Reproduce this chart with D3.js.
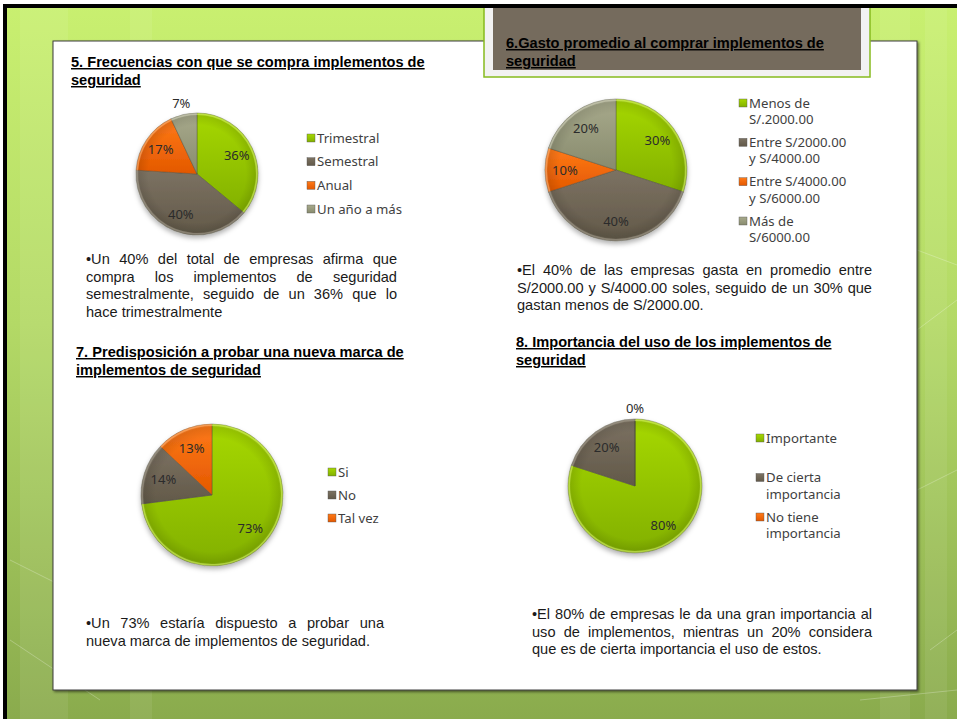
<!DOCTYPE html>
<meta charset="utf-8">
<html>
<head>
  <title>Implementos de seguridad</title>
  <script src="https://d3js.org/d3.v7.min.js"></script>
  <style>
    body { margin: 0; background: white; }
    .title { font-family: "Liberation Sans", Arial, sans-serif; font-size: 14.6px; font-weight: bold; text-decoration: underline; fill: #000; }
    .note { font-family: "Liberation Sans", Arial, sans-serif; font-size: 14.6px; fill: #1a1a1a; }
    .pct { font-family: "Noto Sans", sans-serif; font-size: 13px; fill: #2b2b2b; }
    .legend text { font-family: "Noto Sans", sans-serif; font-size: 13.2px; fill: #3f3f3f; }
  </style>
</head>
<body>
<script>
  // ---- data ----
  var freqCats = ["Trimestral", "Semestral", "Anual", "Un año a más"];
  var freqVals = [36, 40, 17, 7];

  var gastoCats = ["Menos de\nS/.2000.00", "Entre S/2000.00\ny S/4000.00", "Entre S/4000.00\ny S/6000.00", "Más de\nS/6000.00"];
  var gastoVals = [30, 40, 10, 20];

  var marcaCats = ["Si", "No", "Tal vez"];
  var marcaVals = [73, 14, 13];

  var usoCats = ["Importante", "De cierta\nimportancia", "No tiene\nimportancia"];
  var usoVals = [80, 20, 0];

  var titles = [
    ["5. Frecuencias con que se compra implementos de", "seguridad"],
    ["6.Gasto promedio al comprar implementos de", "seguridad"],
    ["7. Predisposición a probar una nueva marca de", "implementos de seguridad"],
    ["8. Importancia del uso de los implementos de", "seguridad"]
  ];

  var notes = [
    ["•Un 40% del total de empresas afirma que", "compra los implementos de seguridad", "semestralmente, seguido de un 36% que lo", "hace trimestralmente"],
    ["•El 40% de las empresas gasta en promedio entre", "S/2000.00 y S/4000.00 soles, seguido de un 30% que", "gastan menos de S/2000.00."],
    ["•Un 73% estaría dispuesto a probar una", "nueva marca de implementos de seguridad."],
    ["•El 80% de empresas le da una gran importancia al", "uso de implementos, mientras un 20% considera", "que es de cierta importancia el uso de estos."]
  ];

  // ---- layout ----
  var W = 957, H = 719;
  var charts = [
    { cats: freqCats,  vals: freqVals,  cx: 197, cy: 174, r: 61, tx: 71,  ty: 67,  lx: 307, ly: [138, 209], nx: 86,  nw: 311, ny: 264 },
    { cats: gastoCats, vals: gastoVals, cx: 616, cy: 170, r: 71, tx: 506, ty: 48,  lx: 739, ly: [103, 221], nx: 517, nw: 355, ny: 275 },
    { cats: marcaCats, vals: marcaVals, cx: 212, cy: 495, r: 71, tx: 76,  ty: 357, lx: 328, ly: [472, 518], nx: 86,  nw: 298, ny: 628 },
    { cats: usoCats,   vals: usoVals,   cx: 635, cy: 486, r: 67, tx: 516, ty: 347, lx: 756, ly: [438, 517], nx: 532, nw: 340, ny: 619 }
  ];

  var palette = [
    { name: "verde",  top: "#a6d800", bot: "#82b000", rim: "#d4f060" },
    { name: "marron", top: "#7c7262", bot: "#625949", rim: "#a39a8a" },
    { name: "naranja", top: "#ff7a18", bot: "#e35800", rim: "#ffb070" },
    { name: "oliva",  top: "#a8aa8c", bot: "#888b6e", rim: "#cfd0b8" }
  ];

  var svg = d3.select("body").append("svg")
    .attr("width", W)
    .attr("height", H);

  var defs = svg.append("defs");

  var bg = defs.append("linearGradient").attr("id", "bg")
    .attr("x1", 0).attr("y1", 0).attr("x2", 0).attr("y2", 1);
  bg.append("stop").attr("offset", "0%").attr("stop-color", "#c9f070");
  bg.append("stop").attr("offset", "45%").attr("stop-color", "#b3d966");
  bg.append("stop").attr("offset", "100%").attr("stop-color", "#8aab4d");

  palette.forEach(function(p) {
    var g = defs.append("linearGradient").attr("id", "g-" + p.name)
      .attr("x1", 0).attr("y1", 0).attr("x2", 0).attr("y2", 1);
    g.append("stop").attr("offset", "0%").attr("stop-color", p.top);
    g.append("stop").attr("offset", "100%").attr("stop-color", p.bot);
  });

  var shade = defs.append("radialGradient").attr("id", "shade")
    .attr("cx", "50%").attr("cy", "50%").attr("r", "50%");
  shade.append("stop").attr("offset", "80%").attr("stop-color", "#000").attr("stop-opacity", 0);
  shade.append("stop").attr("offset", "95%").attr("stop-color", "#000").attr("stop-opacity", 0.1);
  shade.append("stop").attr("offset", "100%").attr("stop-color", "#fff").attr("stop-opacity", 0.2);

  var drop = defs.append("filter").attr("id", "drop")
    .attr("x", "-20%").attr("y", "-20%").attr("width", "140%").attr("height", "140%");
  drop.append("feDropShadow").attr("dx", 0).attr("dy", 3).attr("stdDeviation", 2.5)
    .attr("flood-color", "#000").attr("flood-opacity", 0.3);

  var panelShadow = defs.append("filter").attr("id", "pshadow")
    .attr("x", "-5%").attr("y", "-5%").attr("width", "110%").attr("height", "110%");
  panelShadow.append("feDropShadow").attr("dx", 1.5).attr("dy", 1.5).attr("stdDeviation", 0.8)
    .attr("flood-color", "#000").attr("flood-opacity", 0.5);

  // slide background
  svg.append("rect").attr("width", W).attr("height", H).attr("fill", "url(#bg)");

  var deco = svg.append("g").attr("stroke", "#fff").attr("fill", "none");
  [[20, 48], [130, 22], [880, 30], [925, 22]].forEach(function(b) {
    deco.append("rect").attr("x", b[0]).attr("y", 0).attr("width", b[1]).attr("height", H)
      .attr("fill", "#fff").attr("fill-opacity", 0.07).attr("stroke", "none");
  });
  deco.attr("stroke-opacity", 0.25);
  deco.append("path").attr("d", "M10,560 L60,585 M10,640 L100,700 M930,650 L957,630 M860,700 L957,690 M917,250 L957,265 M917,330 L957,300 M917,490 L957,470");

  // white content panel
  svg.append("rect")
    .attr("x", 53).attr("y", 41).attr("width", 864).attr("height", 649)
    .attr("fill", "#fff").attr("stroke", "#3c3c3c").attr("stroke-width", 1)
    .attr("filter", "url(#pshadow)");

  // title box of chart 6
  svg.append("rect").attr("x", 484).attr("y", 0).attr("width", 386).attr("height", 77)
    .attr("fill", "#f2f2f2").attr("stroke", "#86bb1e").attr("stroke-width", 1.5);
  svg.append("rect").attr("x", 493).attr("y", 0).attr("width", 368).attr("height", 70)
    .attr("fill", "#756b5d");

  // black frame
  svg.append("rect").attr("x", 0).attr("y", 0).attr("width", W).attr("height", 4).attr("fill", "#fff");
  svg.append("rect").attr("x", 0).attr("y", 0).attr("width", 3).attr("height", H).attr("fill", "#fff");
  svg.append("rect").attr("x", 3).attr("y", 4).attr("width", W).attr("height", 4).attr("fill", "#000");
  svg.append("rect").attr("x", 3).attr("y", 4).attr("width", 4).attr("height", H).attr("fill", "#000");

  var pie = d3.pie().sort(null).value(function(d) { return d; });

  charts.forEach(function(c, i) {
    var color = d3.scaleOrdinal().domain(c.cats).range(palette.slice(0, c.cats.length));
    var arcs = pie(c.vals);
    var arc = d3.arc().innerRadius(0).outerRadius(c.r);
    var rim = d3.arc().innerRadius(c.r - 2).outerRadius(c.r - 0.5);
    var inLabel = d3.arc().innerRadius(c.r * 0.72).outerRadius(c.r * 0.72);
    var outLabel = d3.arc().innerRadius(c.r + 11).outerRadius(c.r + 11);

    // title
    var t = svg.append("text").attr("class", "title").attr("x", c.tx).attr("y", c.ty);
    titles[i].forEach(function(line, k) {
      t.append("tspan").attr("x", c.tx).attr("dy", k === 0 ? 0 : 18).text(line);
    });

    // pie
    var g = svg.append("g").attr("transform", "translate(" + c.cx + "," + c.cy + ")");
    var body = g.append("g").attr("filter", "url(#drop)");
    body.selectAll("path.slice")
      .data(arcs)
      .enter().append("path")
      .attr("class", "slice")
      .attr("d", arc)
      .attr("fill", function(d, j) { return "url(#g-" + color(c.cats[j]).name + ")"; })
      .attr("stroke", "#4a4a3a")
      .attr("stroke-opacity", 0.55)
      .attr("stroke-width", 0.7);
    g.append("circle").attr("r", c.r).attr("fill", "url(#shade)");
    g.selectAll("path.rim")
      .data(arcs)
      .enter().append("path")
      .attr("class", "rim")
      .attr("d", rim)
      .attr("fill", function(d, j) { return color(c.cats[j]).rim; })
      .attr("fill-opacity", 0.55);

    g.selectAll("text.pct")
      .data(arcs)
      .enter().append("text")
      .attr("class", "pct")
      .attr("text-anchor", "middle")
      .attr("dy", "0.35em")
      .attr("transform", function(d) {
        var a = d.data < 8 ? outLabel : inLabel;
        return "translate(" + a.centroid(d) + ")";
      })
      .text(function(d) { return d.data + "%"; });

    // legend
    var rows = d3.scalePoint().domain(c.cats).range(c.ly);
    var leg = svg.append("g").attr("class", "legend");
    var item = leg.selectAll("g")
      .data(c.cats)
      .enter().append("g")
      .attr("transform", function(d) { return "translate(" + c.lx + "," + rows(d) + ")"; });
    item.append("rect")
      .attr("x", 0).attr("y", -4).attr("width", 8).attr("height", 8)
      .attr("fill", function(d) { return "url(#g-" + color(d).name + ")"; })
      .attr("stroke", "#555").attr("stroke-width", 0.4);
    item.append("text")
      .attr("x", 10)
      .attr("y", 0)
      .each(function(d) {
        var el = d3.select(this);
        d.split("\n").forEach(function(line, k) {
          el.append("tspan").attr("x", 10).attr("dy", k === 0 ? "0.36em" : 16.4).text(line);
        });
      });

    // justified note
    var n = svg.append("g");
    notes[i].forEach(function(line, k) {
      var tx = n.append("text").attr("class", "note")
        .attr("x", c.nx).attr("y", c.ny + k * 17.7).text(line);
      if (k < notes[i].length - 1) {
        var gaps = line.split(" ").length - 1;
        var len = tx.node().getComputedTextLength();
        if (gaps > 0) tx.attr("word-spacing", (c.nw - len) / gaps);
      }
    });
  });
</script>
</body>
</html>
